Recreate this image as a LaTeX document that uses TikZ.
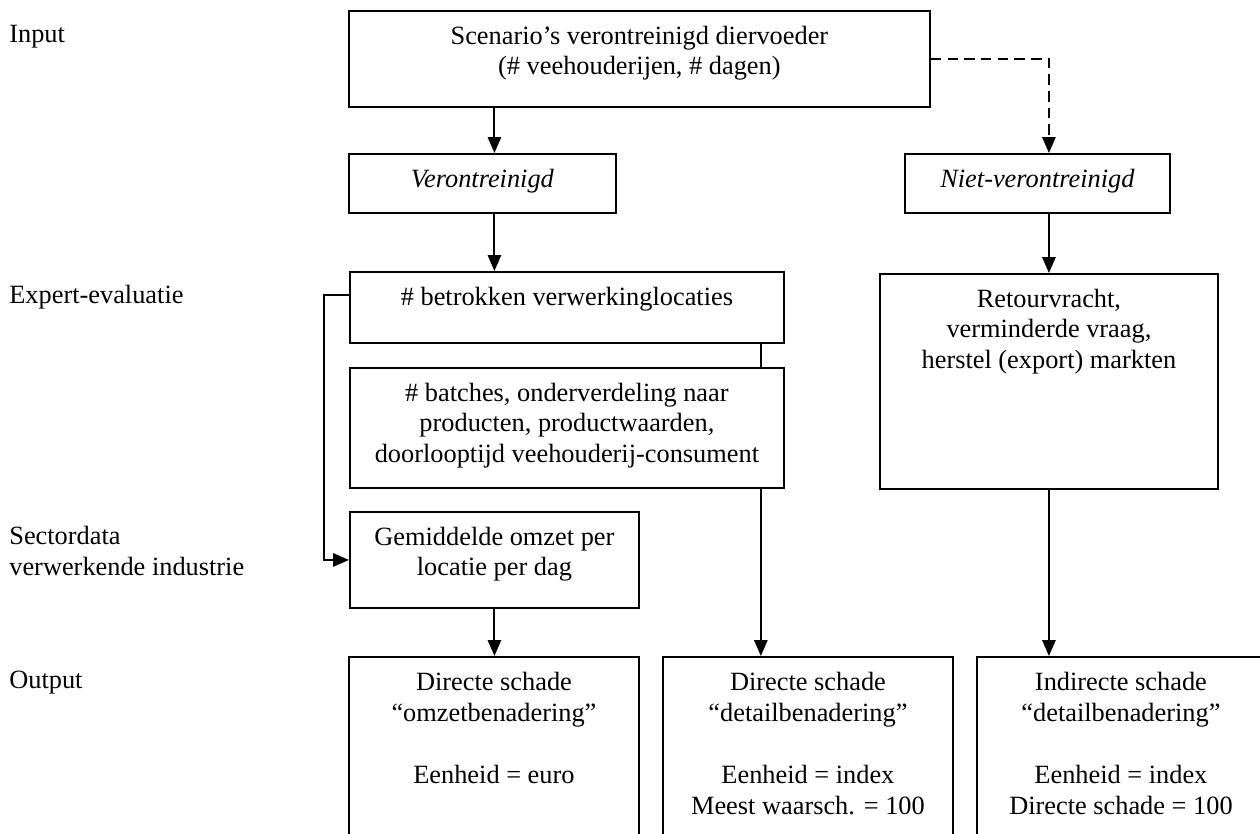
\documentclass[tikz,border=0pt]{standalone}
\usepackage{fontspec}
\setmainfont{Liberation Serif}
\usepackage{tikz}
\usetikzlibrary{arrows.meta}
\newcommand{\tekst}{\fontsize{15}{17.5}\selectfont}
\tikzset{
  vak/.style 2 args={draw, line width=1.1pt, inner sep=0pt, anchor=north west,
    execute at begin node={\begin{minipage}[t][#2][t]{#1}\tekst\centering\vspace*{0.3cm}},
    execute at end node={\end{minipage}}},
  pijl/.style={-{Triangle[length=9pt,width=7.5pt]}, line width=1.1pt},
  stippel/.style={pijl, dash pattern=on 6pt off 3.5pt},
  rij/.style={font=\tekst, inner sep=0pt, anchor=base west, align=left},
}
\begin{document}
\begin{tikzpicture}[x=0.02cm, y=-0.02cm]
  \path[use as bounding box, clip] (0,0) rectangle (1260,834);
  \node[rij] (linput) at (9,43) {Input};
  \node[rij] (lexpert) at (9,304) {Expert-evaluatie};
  \node[rij, anchor=north west] (lsector) at (9,526) {Sectordata\\verwerkende industrie};
  \node[rij] (loutput) at (9,688) {Output};
  \node[vak={11.62cm}{1.92cm}] (scen) at (348,10) {Scenario’s verontreinigd diervoeder\\(\# veehouderijen, \# dagen)};
  \node[vak={5.34cm}{1.18cm}] (verontr) at (348,153) {\textit{Verontreinigd}};
  \node[vak={5.3cm}{1.18cm}] (niet) at (904,153) {\textit{Niet-verontreinigd}};
  \node[vak={8.68cm}{1.42cm}] (betr) at (349,271) {\# betrokken verwerkinglocaties};
  \node[vak={8.68cm}{2.4cm}] (batch) at (349,367) {\# batches, onderverdeling naar\\producten, productwaarden,\\doorlooptijd veehouderij-consument};
  \node[vak={5.78cm}{1.92cm}] (gemid) at (349,511) {Gemiddelde omzet per\\locatie per dag};
  \node[vak={6.76cm}{4.3cm}] (retour) at (879,273) {Retourvracht,\\verminderde vraag,\\herstel (export) markten};
  \node[vak={5.8cm}{3.64cm}] (out1) at (348,656) {Directe schade\\“omzetbenadering”\\[18pt]Eenheid = euro};
  \node[vak={5.8cm}{3.64cm}] (out2) at (662,656) {Directe schade\\“detailbenadering”\\[18pt]Eenheid = index\\Meest waarsch. = 100};
  \node[vak={5.76cm}{3.64cm}] (out3) at (976,656) {Indirecte schade\\“detailbenadering”\\[18pt]Eenheid = index\\Directe schade = 100};
  \draw[pijl] (scen.south -| gemid) -- (verontr.north -| gemid);
  \draw[pijl] (verontr.south -| gemid) -- (betr.north -| gemid);
  \draw[stippel] (scen.east) -| (niet.north -| retour);
  \draw[pijl] (niet.south -| retour) -- (retour.north);
  \draw[pijl] (retour.south) -- (out3.north -| retour);
  \draw[pijl] (gemid.south) -- (out1.north -| gemid);
  \draw[pijl] ([yshift=0.25cm]betr.west) -- ++(-0.5cm,0) |- (gemid.west);
  \coordinate (m) at ([xshift=-0.48cm]betr.south east);
  \draw[line width=1.1pt] (m) -- (m |- batch.north);
  \draw[pijl] (m |- batch.south) -- (m |- out2.north);
\end{tikzpicture}
\end{document}
